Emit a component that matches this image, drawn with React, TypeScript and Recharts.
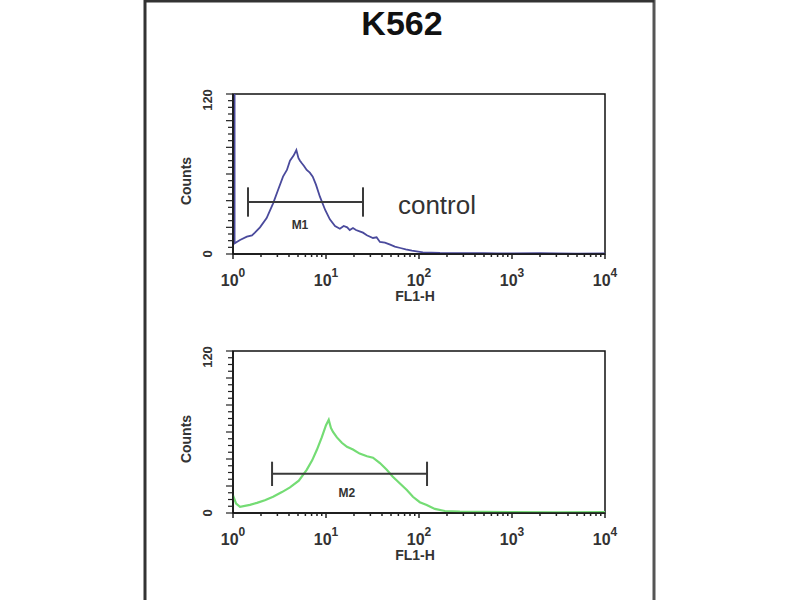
import React from "react";
import { LineChart, Line, XAxis, YAxis, ReferenceLine, ReferenceArea, ReferenceDot } from "recharts";

const FONT = "Arial, 'Liberation Sans', Helvetica, sans-serif";

// control histogram (blue), FL1-H channel vs counts
const controlFl = [1.04, 1.04, 1.19, 1.41, 1.6, 1.72, 1.95, 2.3, 2.7, 3.05, 3.45, 3.8, 4.1, 4.5, 4.8, 5.05, 5.25, 5.5, 5.8, 6.2, 6.7, 7.2, 7.8, 8.6, 9.8, 11, 12.5, 14.1, 15.5, 16.9, 18, 19.5, 21, 23, 25, 27.5, 32, 35, 38, 43, 49, 55, 63, 72, 84, 110, 168, 355, 500, 700, 1000, 2000, 3000, 5000, 10000];
const controlCounts = [120, 8, 10.5, 13, 14, 16, 20, 27, 38, 48, 58, 63, 70, 74, 78, 72, 70, 68, 66, 63, 61, 58, 52, 43, 33, 26, 21, 19, 21, 20, 18, 19.5, 18, 17, 16, 14, 12, 12.5, 9, 8.5, 7, 5.5, 4.5, 3.5, 2.5, 1.2, 0.8, 0.6, 0.7, 0.4, 0.5, 0.6, 0.4, 0.3, 0.5];

// sample histogram (green)
const sampleFl = [1, 1.08, 1.19, 1.52, 1.81, 2.2, 2.7, 3.36, 4.1, 5.1, 6.2, 7.1, 8, 9, 10, 10.7, 11.3, 11.9, 13.1, 14.8, 16.8, 19.5, 23, 27.6, 32, 38, 45, 52, 62, 74, 86, 102, 121, 148, 190, 275, 500, 1000, 3000, 10000];
const sampleCounts = [13, 7, 4.5, 6, 7.5, 9.5, 12, 15.5, 19, 24, 32, 39, 47, 56, 65, 69, 63, 60, 56, 52, 49, 47, 44, 42, 41, 37, 32, 27, 22, 17, 12, 8, 6, 3, 1.5, 1, 0.8, 0.6, 0.5, 0.6];

// gate markers
const markerNames = ["M1", "M2"];
const markerFrom = [1.45, 2.63];
const markerTo = [25, 122];
const markerLevel = [39, 29];
const markerHalf = [11, 9];
const markerLabelX = [5.25, 16.8];
const markerLabelY = [21.7, 14.8];

const decades = [1, 10, 100, 1000, 10000];
const xTicks = decades.slice(0, 4).flatMap((d) => [2, 3, 4, 5, 6, 7, 8, 9].map((m) => d * m)).concat(decades).sort((a, b) => a - b);
const yTicks = [0, 5, 10, 15, 20, 25, 30, 35, 40, 45, 50, 55, 60, 65, 70, 75, 80, 85, 90, 95, 100, 105, 110, 115, 120];

const LogTick = (props: any) => {
  const { x, y, payload } = props;
  const v = payload.value;
  const e = Math.round(Math.log10(v));
  const major = Math.abs(Math.log10(v) - e) < 1e-6;
  return (
    <g>
      <line x1={x} x2={x} y1={y} y2={y + (major ? 5 : 3)} stroke="#222" strokeWidth={1.5} />
      {major && (
        <text x={x} y={y + 32} textAnchor="middle" fontSize={16} fontWeight="bold" fill="#333" fontFamily={FONT}>
          <tspan>10</tspan>
          <tspan dy={-9} fontSize={12}>{e}</tspan>
        </text>
      )}
    </g>
  );
};

const CountTick = (props: any) => {
  const { x, y, payload } = props;
  const v = payload.value;
  const len = v % 20 === 0 ? 7 : 5;
  return (
    <g>
      <line x1={x - len} x2={x} y1={y} y2={y} stroke="#222" strokeWidth={1.2} />
      {(v === 0 || v === 120) && (
        <text
          transform={`translate(${x - 26},${v === 120 ? y + 6 : y}) rotate(-90)`}
          textAnchor="middle"
          dominantBaseline="central"
          fontSize={13}
          fontWeight="bold"
          fill="#333"
          fontFamily={FONT}
        >
          {v}
        </text>
      )}
    </g>
  );
};

const xTitle = (props: any) => {
  const vb = props.viewBox;
  return (
    <text x={vb.x + vb.width / 2 - 4} y={vb.y + 47} textAnchor="middle" fontSize={14} fontWeight="bold" fill="#333" fontFamily={FONT}>
      FL1-H
    </text>
  );
};

const yTitle = (props: any) => {
  const vb = props.viewBox;
  const cx = vb.x + vb.width - 47;
  const cy = vb.y + vb.height / 2 + 7;
  return (
    <text transform={`translate(${cx},${cy}) rotate(-90)`} textAnchor="middle" dominantBaseline="central" fontSize={14} fontWeight="bold" fill="#333" fontFamily={FONT}>
      Counts
    </text>
  );
};

interface HistProps {
  fl: number[];
  counts: number[];
  color: string;
  width: number;
  marker: number;
  top: number;
  height: number;
  margin: { top: number; right: number; bottom: number; left: number };
  note?: string;
}

const Histogram: React.FC<HistProps> = ({ fl, counts, color, width, marker, top, height, margin, note }) => {
  const rows = fl.map((f, i) => ({ fl: f, count: counts[i] }));
  const from = markerFrom[marker];
  const to = markerTo[marker];
  const lvl = markerLevel[marker];
  const h = markerHalf[marker];
  return (
    <div style={{ position: "absolute", left: 0, top }}>
      <LineChart width={800} height={height} data={rows} margin={margin}>
        <XAxis
          xAxisId="x"
          dataKey="fl"
          type="number"
          scale="log"
          domain={[1, 10000]}
          allowDataOverflow
          ticks={xTicks}
          interval={0}
          tickSize={0}
          tickMargin={0}
          tickLine={false}
          tick={(p: any) => <LogTick {...p} />}
          axisLine={{ stroke: "#111", strokeWidth: 1.5 }}
          height={50}
          label={xTitle}
        />
        <YAxis
          yAxisId="y"
          type="number"
          domain={[0, 120]}
          allowDataOverflow
          ticks={yTicks}
          interval={0}
          tickSize={0}
          tickMargin={0}
          tickLine={false}
          tick={(p: any) => <CountTick {...p} />}
          axisLine={{ stroke: "#111", strokeWidth: 1.5 }}
          width={50}
          label={yTitle}
        />
        <ReferenceArea xAxisId="x" yAxisId="y" x1={1} x2={10000} y1={0} y2={120} fill="none" fillOpacity={0} stroke="#111" strokeWidth={1.5} />
        <Line
          xAxisId="x"
          yAxisId="y"
          dataKey="count"
          type="linear"
          stroke={color}
          strokeWidth={width}
          dot={false}
          isAnimationActive={false}
        />
        <ReferenceLine xAxisId="x" yAxisId="y" segment={[{ x: from, y: lvl }, { x: to, y: lvl }]} stroke="#3a3a3a" strokeWidth={2} />
        <ReferenceLine xAxisId="x" yAxisId="y" segment={[{ x: from, y: lvl - h }, { x: from, y: lvl + h }]} stroke="#3a3a3a" strokeWidth={2} />
        <ReferenceLine xAxisId="x" yAxisId="y" segment={[{ x: to, y: lvl - h }, { x: to, y: lvl + h }]} stroke="#3a3a3a" strokeWidth={2} />
        <ReferenceDot
          xAxisId="x"
          yAxisId="y"
          x={markerLabelX[marker]}
          y={markerLabelY[marker]}
          r={0}
          stroke="none"
          fill="none"
          label={{ value: markerNames[marker], position: "center", fontSize: 12, fontWeight: "bold", fill: "#333", fontFamily: FONT }}
        />
        {note && (
          <ReferenceDot
            xAxisId="x"
            yAxisId="y"
            x={156}
            y={37}
            r={0}
            stroke="none"
            fill="none"
            label={{ value: note, position: "center", fontSize: 26, fill: "#333", fontFamily: FONT }}
          />
        )}
      </LineChart>
    </div>
  );
};

export default function App() {
  return (
    <div style={{ position: "absolute", left: 0, top: 0, width: 800, height: 600, background: "#fff", overflow: "hidden" }}>
      <svg width={800} height={600} style={{ position: "absolute", left: 0, top: 0 }}>
        <line x1={145} x2={145} y1={0} y2={600} stroke="#333" strokeWidth={3} />
        <line x1={654} x2={654} y1={0} y2={600} stroke="#555" strokeWidth={3} />
        <line x1={145} x2={654} y1={1} y2={1} stroke="#333" strokeWidth={3} />
        <text x={402} y={35} textAnchor="middle" fontSize={34} fontWeight="bold" fill="#111" fontFamily={FONT}>
          K562
        </text>
      </svg>
      <Histogram
        fl={controlFl}
        counts={controlCounts}
        color="#4a4a9c"
        width={1.8}
        marker={0}
        top={0}
        height={320}
        margin={{ top: 94, right: 195, bottom: 16, left: 183 }}
        note="control"
      />
      <Histogram
        fl={sampleFl}
        counts={sampleCounts}
        color="#74dc74"
        width={2.2}
        marker={1}
        top={300}
        height={300}
        margin={{ top: 51, right: 195, bottom: 37, left: 183 }}
      />
    </div>
  );
}
